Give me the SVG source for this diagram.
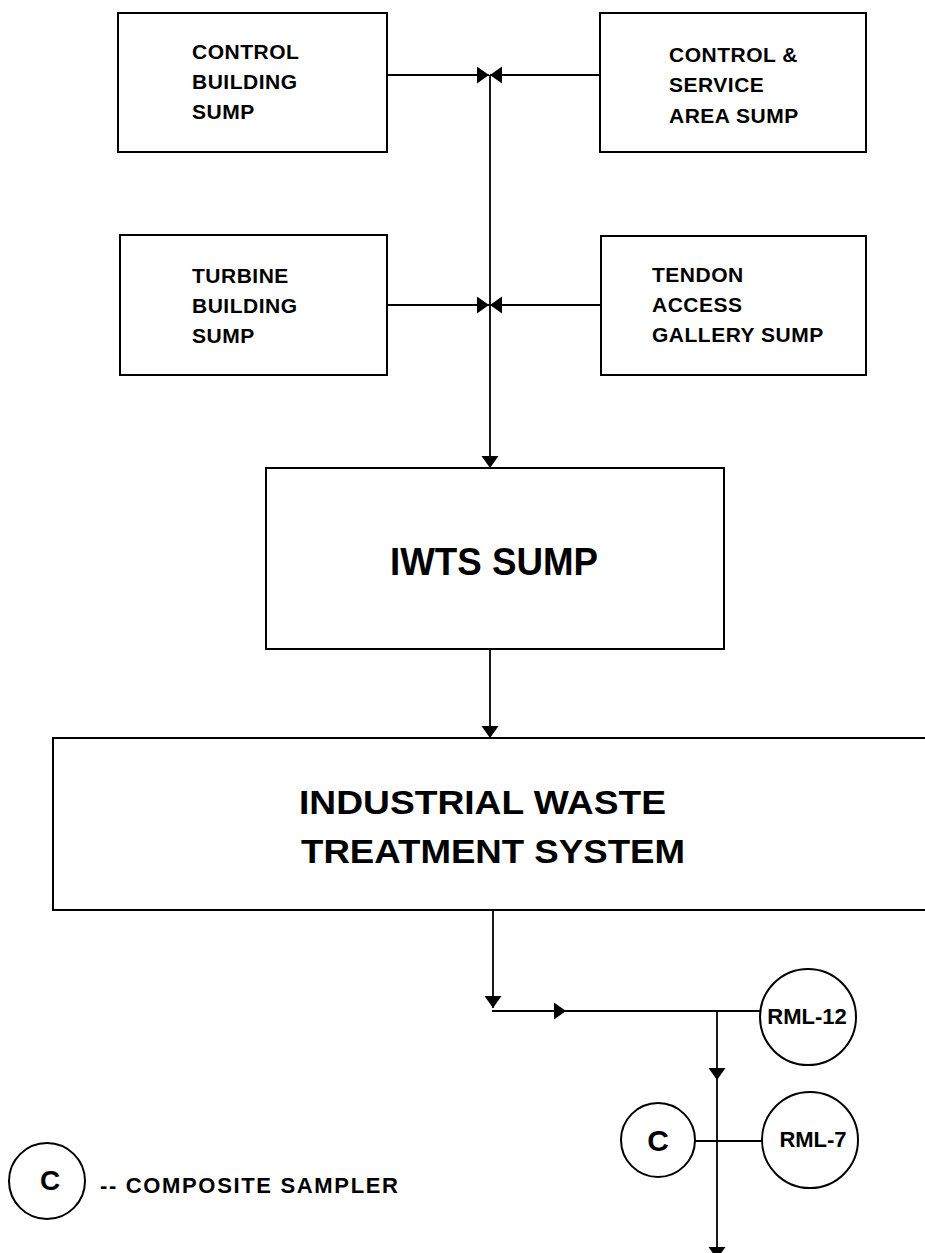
<svg xmlns="http://www.w3.org/2000/svg" width="925" height="1253" viewBox="0 0 925 1253">
<style>
.box{fill:#fff;stroke:#000;stroke-width:2}
.ln{fill:none;stroke:#000;stroke-width:1.8}
.t{font-family:"Liberation Sans",Arial,sans-serif;font-weight:bold;font-size:21px;letter-spacing:0.5px;fill:#000}
.big{font-family:"Liberation Sans",Arial,sans-serif;font-weight:bold;fill:#000}
</style>
<defs>
<marker id="ah" markerUnits="userSpaceOnUse" markerWidth="14" markerHeight="18" refX="12" refY="8.5" orient="auto" viewBox="0 0 14 18">
<path d="M0,0 L12,8.5 L0,17 z" fill="#000"/>
</marker>
</defs>
<rect width="925" height="1253" fill="#fff"/>
<g id="control-building-sump">
<rect class="box" x="118" y="13" width="269" height="139"/>
<text class="t" x="192" y="59">CONTROL</text>
<text class="t" x="192" y="89">BUILDING</text>
<text class="t" x="192" y="119">SUMP</text>
</g>
<g id="control-service-area-sump">
<rect class="box" x="600" y="13" width="266" height="139"/>
<text class="t" x="669" y="62">CONTROL &amp;</text>
<text class="t" x="669" y="92">SERVICE</text>
<text class="t" x="669" y="123">AREA SUMP</text>
</g>
<g id="turbine-building-sump">
<rect class="box" x="120" y="235" width="267" height="140"/>
<text class="t" x="192" y="283">TURBINE</text>
<text class="t" x="192" y="313">BUILDING</text>
<text class="t" x="192" y="343">SUMP</text>
</g>
<g id="tendon-access-gallery-sump">
<rect class="box" x="601" y="236" width="265" height="139"/>
<text class="t" x="652" y="282">TENDON</text>
<text class="t" x="652" y="312">ACCESS</text>
<text class="t" x="652" y="342">GALLERY SUMP</text>
</g>
<g id="iwts-sump">
<rect class="box" x="266" y="468" width="458" height="181"/>
<text class="big" x="390" y="575" font-size="39" textLength="208" lengthAdjust="spacingAndGlyphs">IWTS SUMP</text>
</g>
<g id="industrial-waste-treatment-system">
<rect class="box" x="53" y="738" width="880" height="172"/>
<text class="big" x="299" y="814" font-size="33" textLength="367" lengthAdjust="spacingAndGlyphs">INDUSTRIAL WASTE</text>
<text class="big" x="301" y="863" font-size="33" textLength="384" lengthAdjust="spacingAndGlyphs">TREATMENT SYSTEM</text>
</g>
<g id="rml-12">
<circle class="box" cx="808" cy="1017" r="48"/>
<text class="big" x="807" y="1024" font-size="22" text-anchor="middle">RML-12</text>
</g>
<g id="composite-sampler">
<circle class="box" cx="658" cy="1140" r="37"/>
<text class="big" x="658" y="1151" font-size="30" text-anchor="middle">C</text>
</g>
<g id="rml-7">
<circle class="box" cx="810" cy="1140" r="48"/>
<text class="big" x="813" y="1147" font-size="22" text-anchor="middle">RML-7</text>
</g>
<g id="legend">
<circle class="box" cx="47" cy="1181" r="38"/>
<text class="big" x="50" y="1190" font-size="28" text-anchor="middle">C</text>
<text class="big" x="100" y="1193" font-size="22" textLength="298" lengthAdjust="spacing">-- COMPOSITE SAMPLER</text>
</g>
<g id="connectors">
<line class="ln" x1="387" y1="75" x2="489" y2="75" marker-end="url(#ah)"/>
<line class="ln" x1="600" y1="75" x2="490" y2="75" marker-end="url(#ah)"/>
<line class="ln" x1="387" y1="305" x2="489" y2="305" marker-end="url(#ah)"/>
<line class="ln" x1="601" y1="305" x2="490" y2="305" marker-end="url(#ah)"/>
<line class="ln" x1="490" y1="75" x2="490" y2="468" marker-end="url(#ah)"/>
<line class="ln" x1="490" y1="649" x2="490" y2="738" marker-end="url(#ah)"/>
<line class="ln" x1="493" y1="910" x2="493" y2="1008" marker-end="url(#ah)"/>
<line class="ln" x1="493" y1="1011" x2="566" y2="1011" marker-end="url(#ah)"/>
<line class="ln" x1="492" y1="1011" x2="760" y2="1011"/>
<line class="ln" x1="717" y1="1011" x2="717" y2="1080" marker-end="url(#ah)"/>
<line class="ln" x1="717" y1="1080" x2="717" y2="1259" marker-end="url(#ah)"/>
<line class="ln" x1="695" y1="1141" x2="762" y2="1141"/>
</g>
</svg>
